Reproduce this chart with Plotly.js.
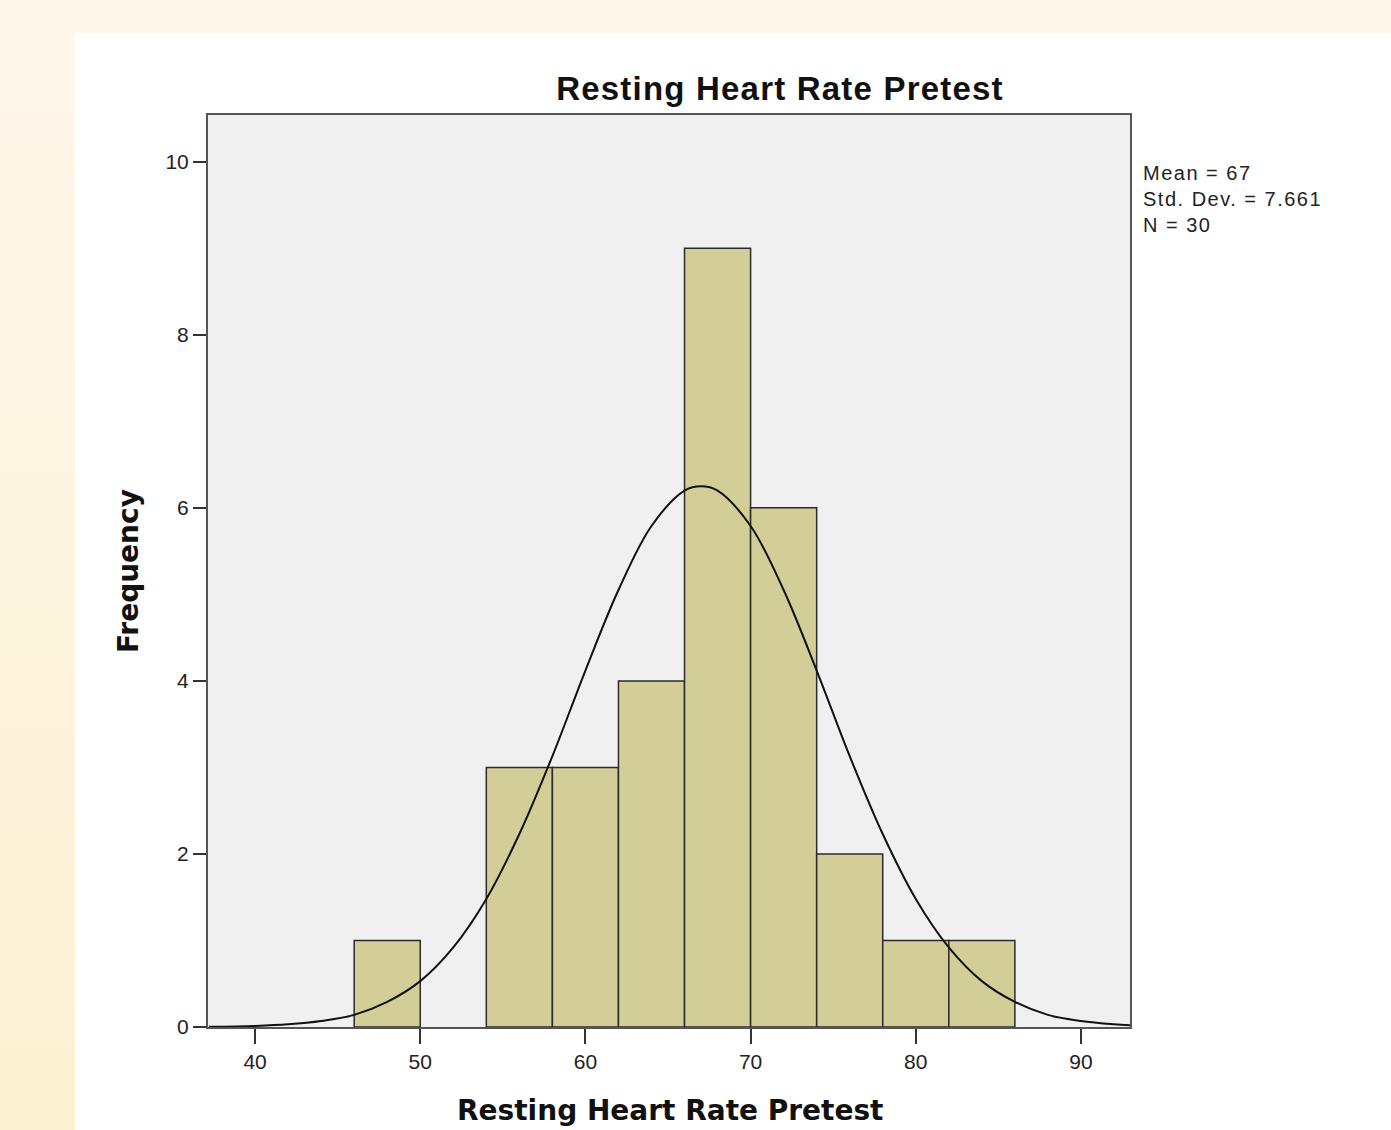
<!DOCTYPE html>
<html>
<head>
<meta charset="utf-8">
<script src="https://cdn.plot.ly/plotly-3.0.1.min.js"></script>
<style>
html,body{margin:0;padding:0;}
body{width:1391px;height:1130px;background:linear-gradient(to bottom,#fef8ec 0%,#fdf1d3 100%);}
#chart{width:1391px;height:1130px;}
#chart .gtitle{letter-spacing:1.2px;}
#chart .stats-ls text{letter-spacing:1.5px;}
</style>
</head>
<body>
<div id="chart"></div>
<script>
// Histogram bins (lower edge, width 4) and frequencies
var binStarts = [46, 54, 58, 62, 66, 70, 74, 78, 82];
var binWidth = 4;
var counts = [1, 3, 3, 4, 9, 6, 2, 1, 1];

// Normal curve
var curveX = [37.2, 40, 42, 44, 46, 48, 50, 52, 54, 56, 58, 60, 62, 64, 66, 67, 68, 70, 72, 74, 76, 78, 80, 82, 84, 86, 88, 90, 92, 93];
var curveY = [0.003, 0.013, 0.031, 0.069, 0.14, 0.29, 0.53, 0.92, 1.48, 2.23, 3.13, 4.12, 5.05, 5.79, 6.20, 6.25, 6.20, 5.79, 5.05, 4.12, 3.13, 2.23, 1.48, 0.92, 0.53, 0.29, 0.14, 0.069, 0.031, 0.02];

var xTicks = [40, 50, 60, 70, 80, 90];
var yTicks = [0, 2, 4, 6, 8, 10];

var titleText = "Resting Heart Rate Pretest";
var xTitle = "Resting Heart Rate Pretest";
var yTitle = "Frequency";
var statsLines = ["Mean = 67", "Std. Dev. = 7.661", "N = 30"];

var centers = binStarts.map(function (s) { return s + binWidth / 2; });

var W = 1391, H = 1130;
var L = 208, R = 1130, T = 115, B = 1027;
function px(x) { return (x - L) / (R - L); }
function py(y) { return (B - y) / (B - T); }

var traces = [
  {
    type: 'bar', x: centers, y: counts, width: binWidth,
    marker: { color: '#d3cd97', line: { color: '#2b2b2b', width: 1.5 } },
    hoverinfo: 'x+y'
  },
  {
    type: 'scatter', mode: 'lines', x: curveX, y: curveY,
    line: { color: '#111111', width: 2, shape: 'spline', smoothing: 1 },
    hoverinfo: 'skip'
  }
];

var font = 'Liberation Sans, Arial, sans-serif';
var boldFont = 'DejaVu Sans, Verdana, sans-serif';

var annotations = [
  { xref: 'paper', yref: 'paper', x: px(670), y: py(1110),
    xanchor: 'center', yanchor: 'middle', showarrow: false,
    text: '<b>' + xTitle + '</b>', font: { family: boldFont, size: 28, color: '#111' } },
  { xref: 'paper', yref: 'paper', x: px(128), y: py(571), textangle: -90,
    xanchor: 'center', yanchor: 'middle', showarrow: false,
    text: '<b>' + yTitle + '</b>', font: { family: boldFont, size: 28, color: '#111' } },
  { xref: 'paper', yref: 'paper', x: px(1141), y: py(160),
    xanchor: 'left', yanchor: 'top', align: 'left', showarrow: false,
    text: statsLines.join('<br>'), font: { family: font, size: 20, color: '#222' } }
];

var layout = {
  width: W, height: H,
  margin: { l: L, r: W - R, t: T, b: H - B, pad: 0 },
  paper_bgcolor: 'rgba(0,0,0,0)',
  plot_bgcolor: 'rgba(0,0,0,0)',
  showlegend: false,
  bargap: 0,
  font: { family: font, color: '#222' },
  title: {
    text: '<b>' + titleText + '</b>',
    font: { family: font, size: 33, color: '#111' },
    x: px(780), xref: 'paper', xanchor: 'center',
    y: 1 - 88 / H, yref: 'container', yanchor: 'middle'
  },
  xaxis: {
    range: [37.15, 92.97], tickvals: xTicks, ticktext: xTicks.map(String),
    ticks: 'outside', ticklen: 15, tickwidth: 2, tickcolor: '#333',
    showline: true, linecolor: '#555', linewidth: 2, mirror: true,
    showgrid: false, zeroline: false,
    tickfont: { family: font, size: 21, color: '#222' }
  },
  yaxis: {
    range: [0, 10.54], tickvals: yTicks, ticktext: yTicks.map(String),
    ticks: 'outside', ticklen: 13, tickwidth: 2, tickcolor: '#333',
    showline: true, linecolor: '#555', linewidth: 2, mirror: true,
    showgrid: false, zeroline: false,
    tickfont: { family: font, size: 21, color: '#222' }
  },
  shapes: [
    { type: 'rect', xref: 'paper', yref: 'paper', layer: 'below',
      x0: px(75), x1: px(W + 5), y0: py(H + 5), y1: py(33),
      fillcolor: '#ffffff', line: { width: 0 } },
    { type: 'rect', xref: 'paper', yref: 'paper', layer: 'below',
      x0: 0, x1: 1, y0: 0, y1: 1,
      fillcolor: '#f0f0f0', line: { width: 0 } }
  ],
  annotations: annotations
};

Plotly.newPlot('chart', traces, layout, { displayModeBar: false, staticPlot: true }).then(function () {
  var groups = document.querySelectorAll('#chart .annotation');
  if (groups.length > 2) groups[2].classList.add('stats-ls');
});
</script>
</body>
</html>
